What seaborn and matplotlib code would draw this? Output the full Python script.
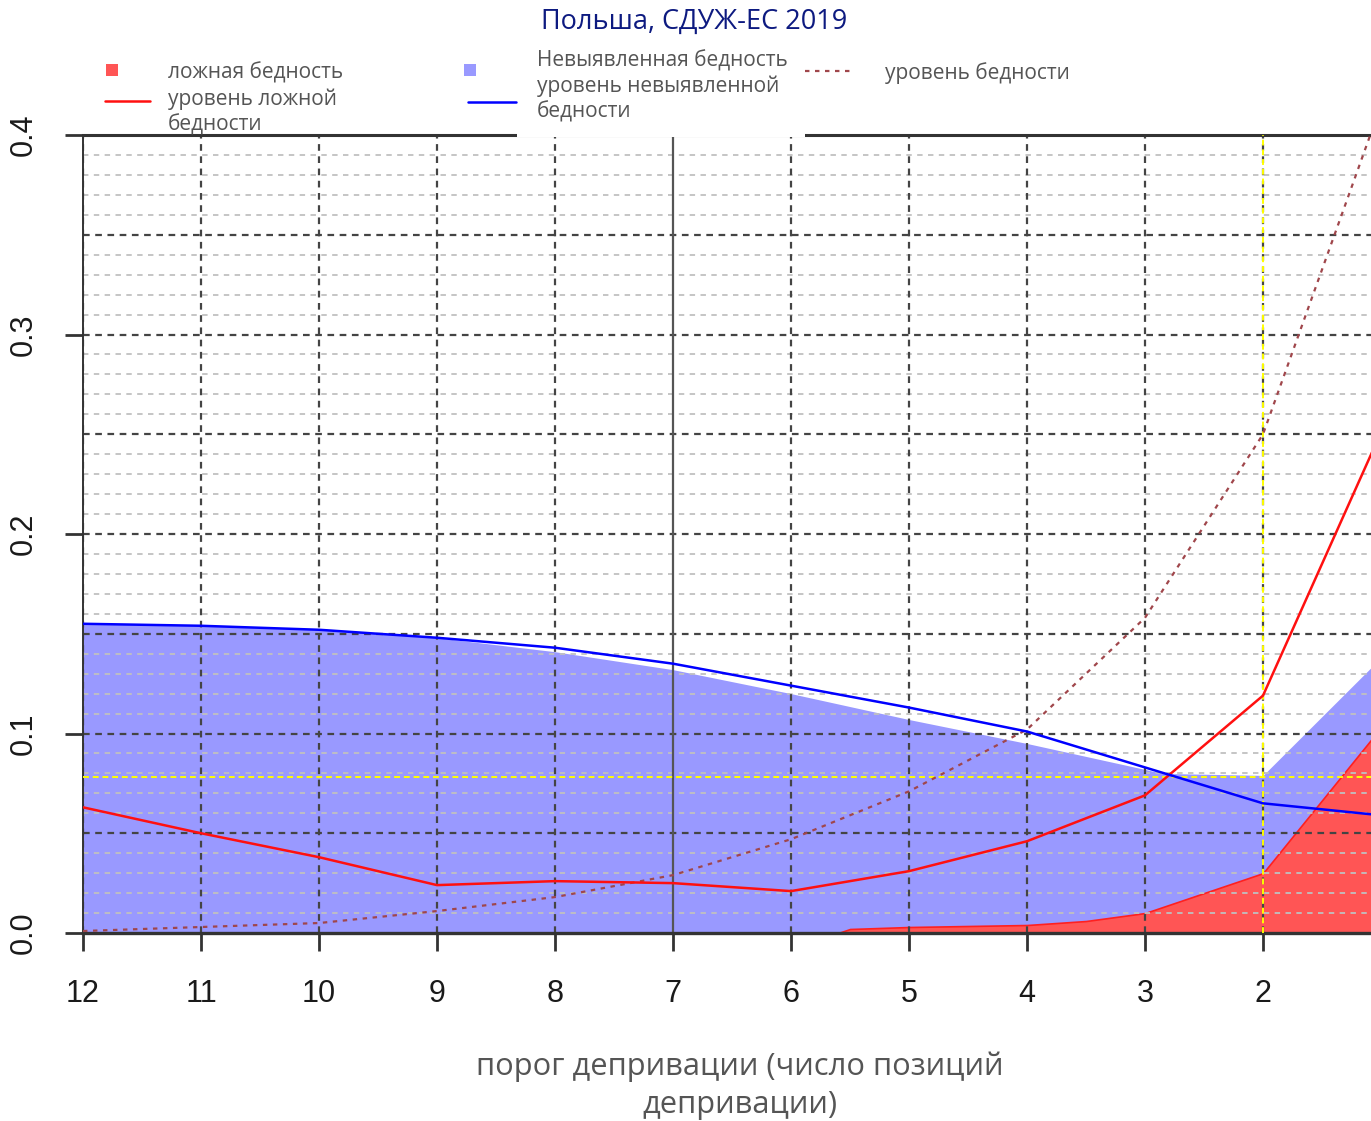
import numpy as np
import pandas as pd
import matplotlib
matplotlib.use("Agg")
import matplotlib.pyplot as plt
from matplotlib.lines import Line2D
from matplotlib.patches import Rectangle
import seaborn as sns

# deprivation threshold (number of deprivation items)
threshold = [12, 11, 10, 9, 8, 7, 6, 5, 4, 3, 2, 1]
false_rate = [0.063, 0.050, 0.038, 0.024, 0.026, 0.025, 0.021, 0.031, 0.046, 0.069, 0.119, 0.251]
undetected_rate = [0.155, 0.154, 0.152, 0.148, 0.143, 0.135, 0.124, 0.113, 0.101, 0.083, 0.065, 0.059]
poverty_rate = [0.001, 0.003, 0.005, 0.011, 0.018, 0.029, 0.047, 0.071, 0.102, 0.158, 0.250, 0.415]

# shaded areas
undetected_x = [12, 11, 10, 9, 8, 7, 6, 5, 4, 3, 2.85, 2, 1]
undetected_area = [0.155, 0.154, 0.152, 0.148, 0.141, 0.132, 0.120, 0.107, 0.095, 0.082, 0.080, 0.079, 0.138]
false_x = [11, 5.6, 5.5, 5, 4, 3.5, 3, 2, 1]
false_area = [0, 0, 0.002, 0.003, 0.004, 0.006, 0.010, 0.030, 0.103]

poverty_line = 0.078
chosen_k = 2

x_ticks = [12, 11, 10, 9, 8, 7, 6, 5, 4, 3, 2]
y_ticks = [0.0, 0.1, 0.2, 0.3, 0.4]

lines = pd.DataFrame({
    'threshold': threshold,
    'false_rate': false_rate,
    'undetected_rate': undetected_rate,
    'poverty_rate': poverty_rate,
})

sns.set_style("white")
plt.rcParams['font.family'] = ['Liberation Sans', 'DejaVu Sans']

W, H = 1371, 1121
fig = plt.figure(figsize=(W / 100, H / 100), dpi=100)
ax = fig.add_axes([83 / W, (H - 933) / H, (W - 83) / W, (933 - 135) / H])

# areas
ax.fill_between(undetected_x, 0, undetected_area, color='#9999ff', lw=0, zorder=1)
ax.fill_between(false_x, 0, false_area, facecolor='#ff5555', edgecolor='#ff2020', lw=1.2, zorder=1.2)

# grid
for v in np.arange(0.01, 0.40, 0.01):
    if abs(v / 0.05 - round(v / 0.05)) < 1e-6:
        ax.axhline(v, color='#444444', ls=(0, (3, 2.5)), lw=1.6, zorder=2.5)
    else:
        ax.axhline(v, color='#c0c0c0', ls=(0, (3, 3)), lw=1.3, zorder=2.4)
for xv in x_ticks:
    if xv == 7:
        ax.axvline(xv, color='#555555', lw=1.6, zorder=2.5)
    else:
        ax.axvline(xv, color='#444444', ls=(0, (3, 2.5)), lw=1.6, zorder=2.5)
ax.axvline(chosen_k, color='#ffff00', ls=(0, (3, 2)), lw=1.4, zorder=2.6)
ax.axhline(poverty_line, color='#ffff00', ls=(0, (3, 2)), lw=1.4, zorder=2.6)

# lines
sns.lineplot(data=lines, x='threshold', y='poverty_rate', ax=ax, color='#a0464b',
             lw=1.6, linestyle=(0, (2, 2.5)), sort=False, zorder=3)
sns.lineplot(data=lines, x='threshold', y='false_rate', ax=ax, color='#ff1010',
             lw=1.8, sort=False, zorder=3)
sns.lineplot(data=lines, x='threshold', y='undetected_rate', ax=ax, color='#0000ff',
             lw=1.8, sort=False, zorder=3)

ax.set_xlim(12, 12 - (W - 83) / 118)
ax.set_ylim(0, 0.4)
ax.set_xticks(x_ticks)
ax.set_xticklabels([str(t) for t in x_ticks])
ax.set_yticks(y_ticks)
ax.set_yticklabels([f"{t:.1f}" for t in y_ticks])
ax.set_xlabel('')
ax.set_ylabel('')
ax.tick_params(axis='x', bottom=True, direction='out', length=13, width=2, color='#333333',
               pad=20, labelsize=22, labelcolor='#1a1a1a')
ax.tick_params(axis='y', left=True, direction='out', length=13, width=2, color='#333333',
               pad=19, labelsize=22, labelcolor='#1a1a1a', labelrotation=90)
for lab in ax.get_yticklabels():
    lab.set_va('center')
ax.spines['right'].set_visible(False)
for s in ['top', 'bottom', 'left']:
    ax.spines[s].set_color('#333333')
ax.spines['top'].set_linewidth(2.2)
ax.spines['bottom'].set_linewidth(2.4)
ax.spines['left'].set_linewidth(1.4)

# title, axis label
ui_font = ['Open Sans', 'DejaVu Sans']
fig.text(694 / W, 1 - 22 / H, 'Польша, СДУЖ-ЕС 2019', ha='center', va='center',
         fontsize=19.5, color='#0d1a80', family=ui_font)
fig.text(740 / W, 1 - 1067 / H, 'порог депривации (число позиций', ha='center', va='center',
         fontsize=22.2, color='#555555', family=ui_font)
fig.text(740 / W, 1 - 1105 / H, 'депривации)', ha='center', va='center',
         fontsize=22.2, color='#555555', family=ui_font)

# legend
def px(x, y):
    return x / W, 1 - y / H

fig.patches.append(Rectangle(px(517, 137), (805 - 517) / W, 40 / H, transform=fig.transFigure,
                             facecolor='white', edgecolor='none', zorder=5))
leg_kw = dict(ha='left', va='center', fontsize=15, color='#555555', family=ui_font, zorder=6)
fig.patches.append(Rectangle(px(106, 76), 12 / W, 12 / H, transform=fig.transFigure,
                             facecolor='#ff5555', edgecolor='none', zorder=6))
fig.patches.append(Rectangle(px(464, 76), 12 / W, 12 / H, transform=fig.transFigure,
                             facecolor='#9999ff', edgecolor='none', zorder=6))
fig.lines.append(Line2D([105 / W, 150 / W], [1 - 101 / H] * 2, transform=fig.transFigure,
                        color='#ff1010', lw=1.8, zorder=6))
fig.lines.append(Line2D([468 / W, 516 / W], [1 - 102 / H] * 2, transform=fig.transFigure,
                        color='#0000ff', lw=1.8, zorder=6))
fig.lines.append(Line2D([805 / W, 851 / W], [1 - 71 / H] * 2, transform=fig.transFigure,
                        color='#a0464b', lw=1.6, ls=(0, (2, 2.5)), zorder=6))
fig.text(*px(168, 73), 'ложная бедность', **leg_kw)
fig.text(*px(168, 99), 'уровень ложной', **leg_kw)
fig.text(*px(168, 125), 'бедности', **leg_kw)
fig.text(*px(537, 61), 'Невыявленная бедность', **leg_kw)
fig.text(*px(537, 86), 'уровень невыявленной', **leg_kw)
fig.text(*px(537, 112), 'бедности', **leg_kw)
fig.text(*px(885, 73), 'уровень бедности', **leg_kw)

fig.savefig("out.png", dpi=100)
